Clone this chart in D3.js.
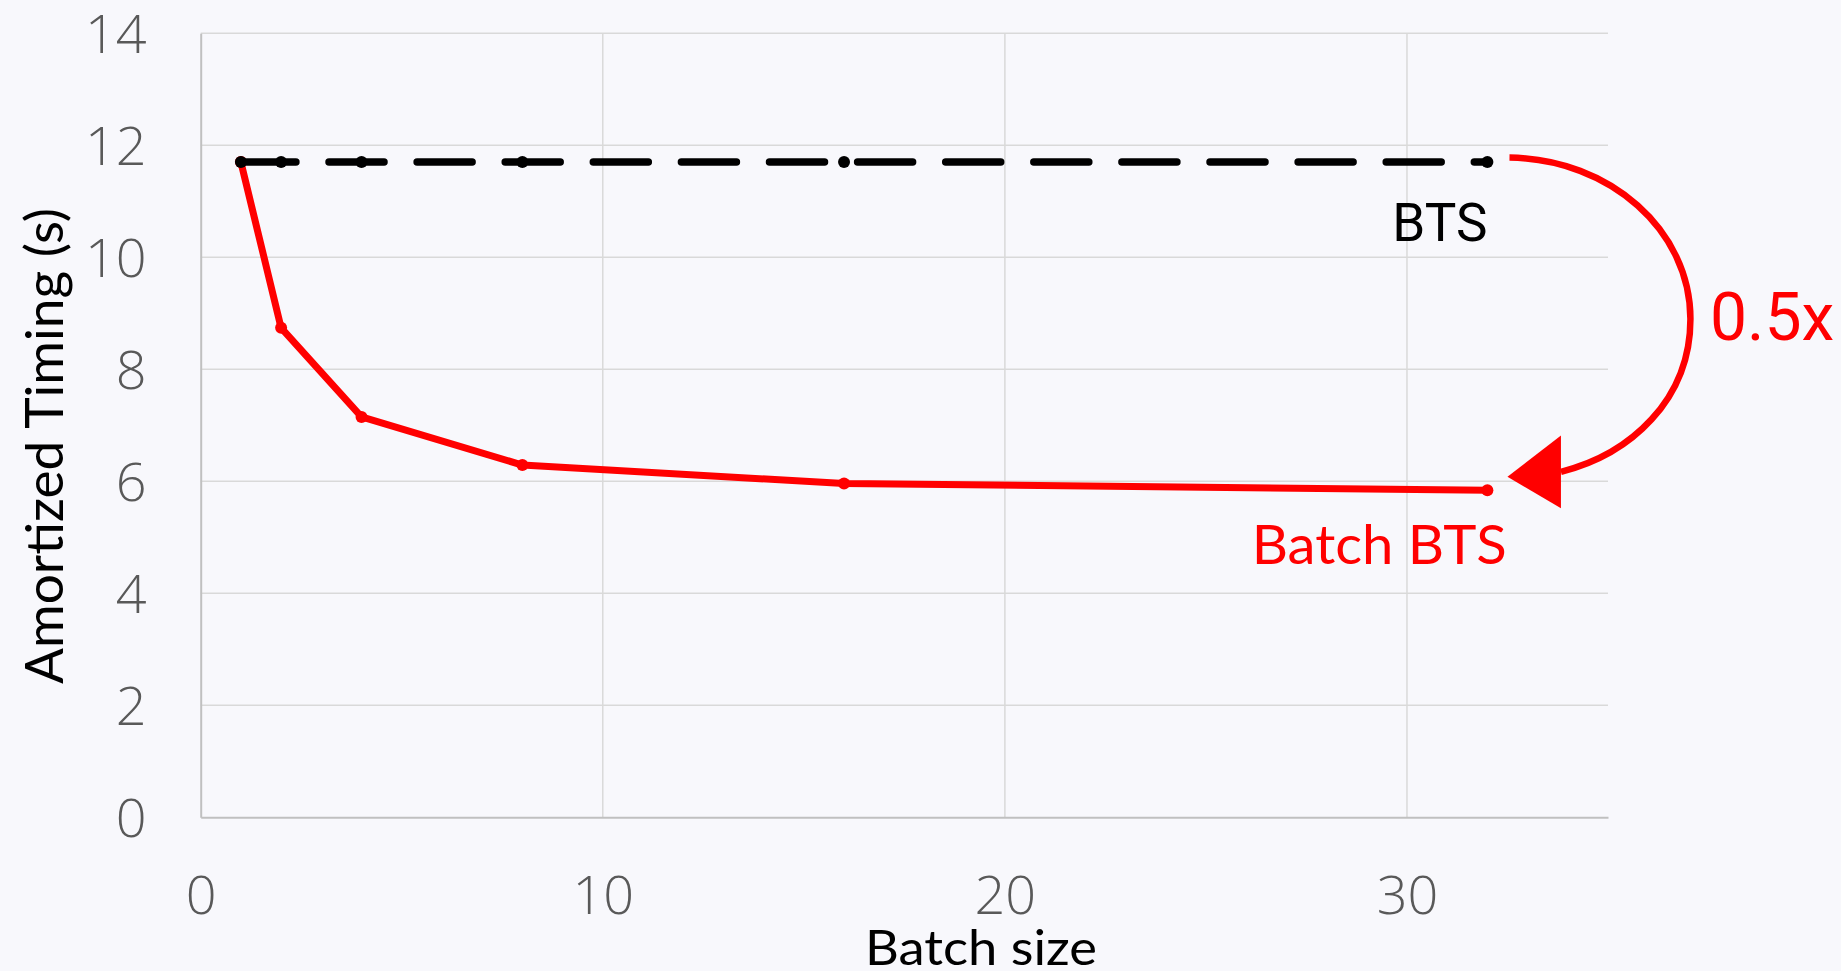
<!DOCTYPE html>
<html>
<head>
<meta charset="utf-8">
<script src="https://cdn.jsdelivr.net/npm/d3@7"></script>
<style>
  html, body { margin: 0; padding: 0; background: #f8f8fc; }
  svg { display: block; }
</style>
</head>
<body>
<svg id="chart" width="1841" height="971"></svg>
<script>
// ---- data ----
const batchSizes = [1, 2, 4, 8, 16, 32];
const btsValues = [11.7, 11.7, 11.7, 11.7, 11.7, 11.7];
const batchBtsValues = [11.7, 8.74, 7.15, 6.29, 5.96, 5.84];
const xTicks = [0, 10, 20, 30];
const yTicks = [0, 2, 4, 6, 8, 10, 12, 14];
const xTitle = "Batch size";
const yTitle = "Amortized Timing (s)";
const seriesLabels = ["BTS", "Batch BTS"];
const speedupLabel = "0.5x";

(function () {
// ---- layout ----
const W = 1841, H = 971;
const mLeft = 200.7, mRight = 1608, mTop = 33.3, mBottom = 817.3;

const svg = d3.select("#chart");
svg.append("rect").attr("width", W).attr("height", H).attr("fill", "#f8f8fc");

const x = d3.scaleLinear().domain([0, 35]).range([mLeft, mRight]);
const y = d3.scaleLinear().domain([0, 14]).range([mBottom, mTop]);

// gridlines
const grid = svg.append("g");
grid.selectAll("line.h").data(yTicks.filter(d => d > 0)).join("line")
  .attr("class", "h")
  .attr("x1", mLeft).attr("x2", mRight)
  .attr("y1", d => y(d)).attr("y2", d => y(d))
  .attr("stroke", "#d9d9d9").attr("stroke-width", 1.5);
grid.selectAll("line.v").data(xTicks.filter(d => d > 0)).join("line")
  .attr("class", "v")
  .attr("x1", d => x(d)).attr("x2", d => x(d))
  .attr("y1", mTop).attr("y2", mBottom)
  .attr("stroke", "#d9d9d9").attr("stroke-width", 1.5);

// axes
const xAxis = d3.axisBottom(x).tickValues(xTicks).tickSize(0).tickPadding(0).tickFormat(d3.format("d"));
const yAxis = d3.axisLeft(y).tickValues(yTicks).tickSize(0).tickPadding(0).tickFormat(d3.format("d"));

const gx = svg.append("g").attr("transform", `translate(0,${mBottom})`).call(xAxis);
gx.select(".domain").attr("stroke", "#c0c0c0").attr("stroke-width", 2);
gx.selectAll("text")
  .attr("y", 97).attr("dy", 0)
  .attr("font-family", "'Open Sans', 'Noto Sans', sans-serif")
  .attr("font-weight", 350)
  .attr("font-size", 54).attr("fill", "#595959");

const gy = svg.append("g").attr("transform", `translate(${mLeft},0)`).call(yAxis);
gy.select(".domain").attr("stroke", "#c0c0c0").attr("stroke-width", 2);
gy.selectAll("text")
  .attr("x", -54).attr("dy", "0.36em")
  .attr("font-family", "'Open Sans', 'Noto Sans', sans-serif")
  .attr("font-weight", 350)
  .attr("font-size", 54).attr("fill", "#595959");

// axis titles
svg.append("text")
  .attr("x", 981).attr("y", 965)
  .attr("text-anchor", "middle")
  .attr("font-family", "Lato, 'Noto Sans', sans-serif")
  .attr("font-size", 48).attr("fill", "#000")
  .attr("textLength", 232).attr("lengthAdjust", "spacingAndGlyphs")
  .text(xTitle);

svg.append("text")
  .attr("transform", "translate(63,446) rotate(-90)")
  .attr("text-anchor", "middle")
  .attr("font-family", "Lato, 'Noto Sans', sans-serif")
  .attr("font-size", 52).attr("fill", "#000")
  .attr("textLength", 476).attr("lengthAdjust", "spacingAndGlyphs")
  .text(yTitle);

// series
const batchData = batchSizes.map((b, i) => ({ x: b, y: batchBtsValues[i] }));
const btsData = batchSizes.map((b, i) => ({ x: b, y: btsValues[i] }));
const line = d3.line().x(d => x(d.x)).y(d => y(d.y));

svg.append("path").datum(batchData)
  .attr("d", line).attr("fill", "none")
  .attr("stroke", "#ff0000").attr("stroke-width", 7)
  .attr("stroke-linejoin", "round");
svg.append("g").selectAll("circle").data(batchData).join("circle")
  .attr("cx", d => x(d.x)).attr("cy", d => y(d.y)).attr("r", 6)
  .attr("fill", "#ff0000");

svg.append("path").datum(btsData)
  .attr("d", line).attr("fill", "none")
  .attr("stroke", "#000").attr("stroke-width", 7.5)
  .attr("stroke-linecap", "round")
  .attr("stroke-dasharray", "55 33.1");
svg.append("g").selectAll("circle").data(btsData).join("circle")
  .attr("cx", d => x(d.x)).attr("cy", d => y(d.y)).attr("r", 6)
  .attr("fill", "#000");

// labels
svg.append("text")
  .attr("x", x(32)).attr("y", 240.7)
  .attr("text-anchor", "end")
  .attr("font-family", "Roboto, sans-serif")
  .attr("font-size", 53).attr("fill", "#000")
  .text(seriesLabels[0]);

svg.append("text")
  .attr("x", 1251.7).attr("y", 564)
  .attr("font-family", "Lato, 'Noto Sans', sans-serif")
  .attr("font-size", 54).attr("fill", "#ff0000")
  .attr("textLength", 255).attr("lengthAdjust", "spacingAndGlyphs")
  .text(seriesLabels[1]);

// speed-up annotation arrow (positions in data units)
const P = (a, b) => [x(a), y(b)];
const s0 = P(32.55, 11.78), c1 = P(35.05, 11.76), c2 = P(37.05, 10.48), m = P(37.05, 8.9);
const c3 = P(37.05, 7.45), c4 = P(35.55, 6.48), e = P(33.83, 6.17);
svg.append("path")
  .attr("d", `M${s0} C${c1} ${c2} ${m} C${c3} ${c4} ${e}`)
  .attr("fill", "none").attr("stroke", "#ff0000").attr("stroke-width", 6.5);
const tip = P(32.5, 6.08), b1 = P(33.83, 6.82), b2 = P(33.83, 5.52);
svg.append("path")
  .attr("d", `M${tip} L${b1} L${b2} Z`)
  .attr("fill", "#ff0000");

svg.append("text")
  .attr("x", 1710).attr("y", 340)
  .attr("font-family", "Roboto, sans-serif")
  .attr("font-size", 66).attr("fill", "#ff0000")
  .text(speedupLabel);
})();
</script>
</body>
</html>
